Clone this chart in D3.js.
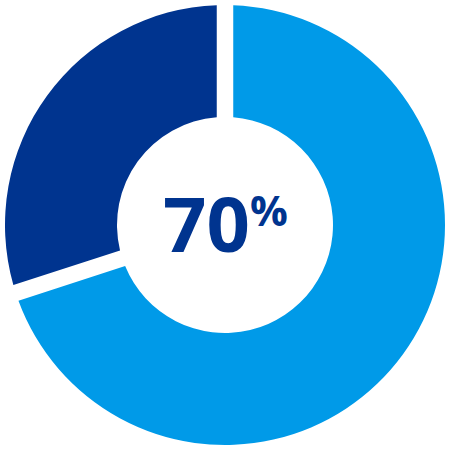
<!DOCTYPE html>
<html>
<head>
<meta charset="utf-8">
<script src="https://cdn.jsdelivr.net/npm/d3@7"></script>
<style>
  body { margin: 0; background: #fff; }
</style>
</head>
<body>
<svg id="donut"></svg>
<script>
var width = 450;
var height = 450;

// share values (percent)
var labels = ["Yes", "No"];
var values = [70, 30];
var colors = ["#009ae8", "#00348f"];
var centerValue = "70";
var centerUnit = "%";

var svg = d3.select("#donut")
    .attr("width", width)
    .attr("height", height);

var outerRadius = 220;
var innerRadius = 108;

var g = svg.append("g")
    .attr("transform", "translate(" + (width / 2) + "," + (height / 2) + ")");

var pie = d3.pie()
    .sort(null)
    .value(function (d) { return d; });

var arc = d3.arc()
    .innerRadius(innerRadius)
    .outerRadius(outerRadius)
    .padAngle(16.5 / outerRadius)
    .padRadius(outerRadius);

g.selectAll("path")
    .data(pie(values))
    .enter()
    .append("path")
    .attr("d", arc)
    .attr("fill", function (d, i) { return colors[i]; });

var label = g.append("text")
    .attr("x", -62)
    .attr("y", 27)
    .attr("fill", "#00348f")
    .attr("font-family", "'Open Sans', sans-serif")
    .attr("font-weight", "bold");

label.append("tspan")
    .attr("font-size", "76px")
    .text(centerValue);

label.append("tspan")
    .attr("font-size", "42px")
    .attr("dy", -26)
    .text(centerUnit);
</script>
</body>
</html>
